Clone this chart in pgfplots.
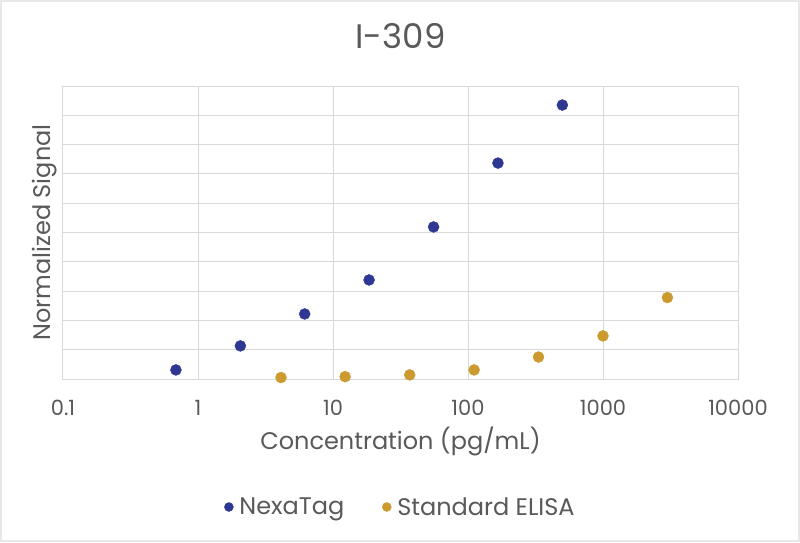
\documentclass[border=0pt]{standalone}
\usepackage{pgfplots}
\pgfplotsset{compat=1.18}
\usepackage{fontspec}
\setmainfont{Poppins}
\definecolor{txt}{HTML}{595959}
\definecolor{gridc}{HTML}{D9D9D9}
\definecolor{nexa}{HTML}{2E3892}
\definecolor{elisa}{HTML}{CC9A2E}
\begin{document}
\begin{tikzpicture}
\path[use as bounding box] (0,0) rectangle (800pt,542pt);
\fill[white] (0,0) rectangle (800pt,542pt);
\draw[gray!18, line width=2pt] (1pt,1pt) rectangle (799pt,541pt);
\begin{axis}[
  at={(63pt,163pt)}, anchor=south west,
  scale only axis, width=675pt, height=293pt,
  xmode=log, xmin=0.1, xmax=10000,
  xtick={0.1,1,10,100,1000,10000},
  xticklabels={0.1,1,10,100,1000,10000},
  minor tick length=0pt,
  ymin=0, ymax=10, ytick={0,1,...,10}, yticklabels={},
  major tick length=0pt,
  xmajorgrids, ymajorgrids, xminorgrids=false,
  grid style={gridc, line width=1pt},
  axis line style={gridc, line width=1pt},
  clip=false,
  xticklabel style={anchor=base, yshift=-36pt, text=txt, font=\fontsize{21}{25}\selectfont},
  title={I-309},
  title style={at={(0.5,1)}, anchor=center, yshift=44pt, text=txt, font=\fontsize{34}{40}\selectfont},
  xlabel={Concentration (pg/mL)},
  xlabel style={at={(0.5,0)}, anchor=center, yshift=-62pt, text=txt, font=\fontsize{24}{29}\selectfont},
  ylabel={Normalized Signal},
  ylabel style={at={(0,0.5)}, anchor=center, yshift=18pt, text=txt, font=\fontsize{24}{29}\selectfont},
  legend columns=2,
  legend style={at={(0.5,0)}, anchor=center, yshift=-128pt, draw=none, fill=none,
    text=txt, font=\fontsize{24}{29}\selectfont,
    /tikz/every odd column/.append style={column sep=4pt},
    /tikz/every even column/.append style={column sep=36pt}},
  legend image code/.code={\draw[#1, mark size=4.5pt] plot coordinates {(0cm,0cm)};},
]
\addplot[only marks, mark=*, mark size=5.5pt, mark options={draw=nexa, fill=nexa}]
  coordinates {(0.686,0.31) (2.06,1.13) (6.17,2.22) (18.5,3.38) (55.6,5.19) (166.7,7.37) (500,9.35)};
\addlegendentry{NexaTag}
\addplot[only marks, mark=*, mark size=5.5pt, mark options={draw=elisa, fill=elisa}]
  coordinates {(4.12,0.05) (12.3,0.08) (37,0.14) (111,0.31) (333,0.75) (1000,1.47) (3000,2.78)};
\addlegendentry{Standard ELISA}
\end{axis}
\end{tikzpicture}
\end{document}
